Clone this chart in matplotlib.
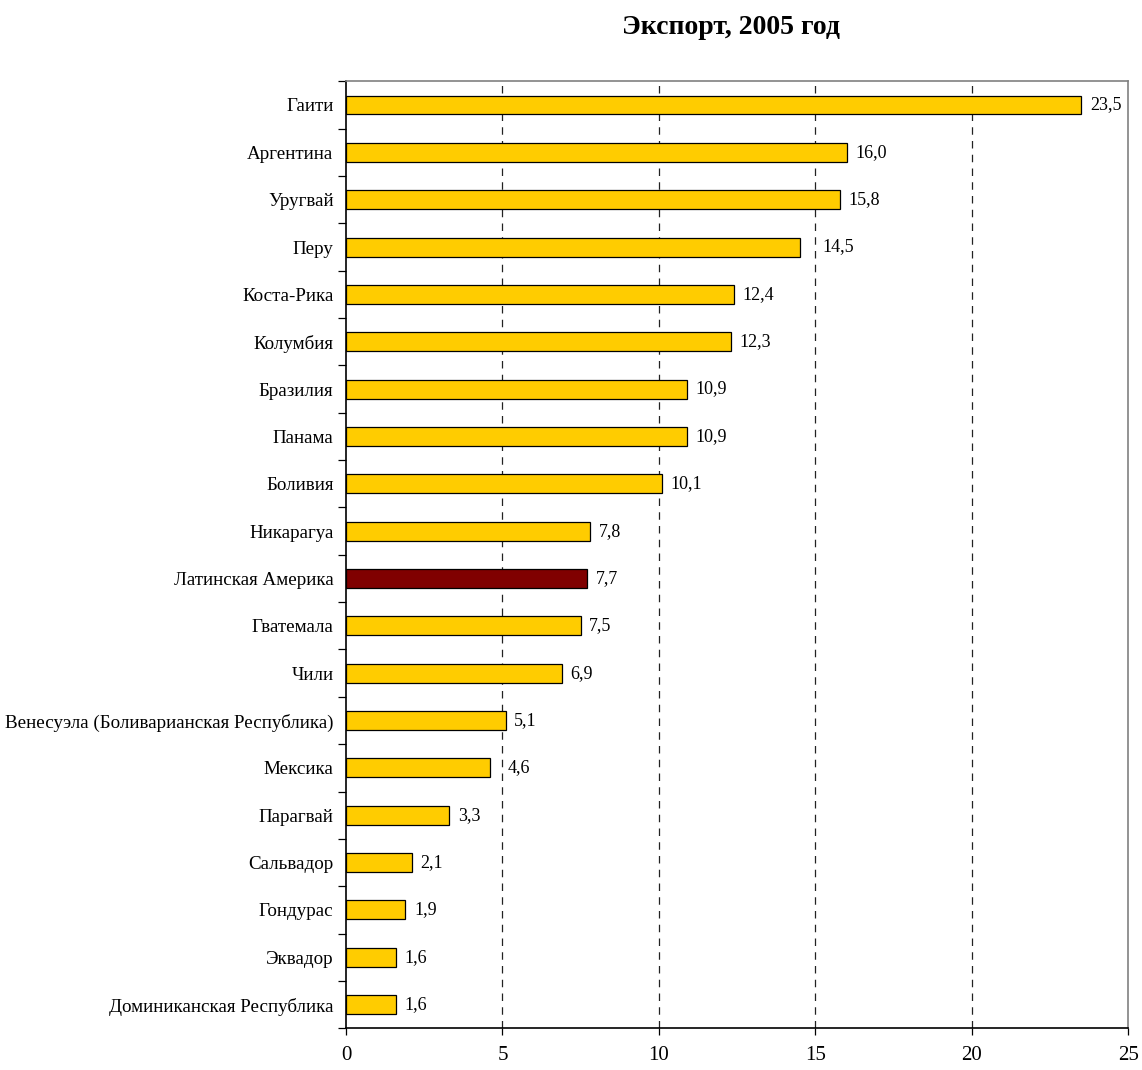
import matplotlib.pyplot as plt
import numpy as np

countries = ['Гаити', 'Аргентина', 'Уругвай', 'Перу', 'Коста-Рика', 'Колумбия',
             'Бразилия', 'Панама', 'Боливия', 'Никарагуа', 'Латинская Америка',
             'Гватемала', 'Чили', 'Венесуэла (Боливарианская Республика)',
             'Мексика', 'Парагвай', 'Сальвадор', 'Гондурас', 'Эквадор',
             'Доминиканская Республика']
values = [23.5, 16.0, 15.8, 14.5, 12.4, 12.3, 10.9, 10.9, 10.1, 7.8, 7.7,
          7.5, 6.9, 5.1, 4.6, 3.3, 2.1, 1.9, 1.6, 1.6]
highlight = 'Латинская Америка'
# labels moved off the gridlines in the original
label_nudge = {'Перу': 0.45, 'Мексика': 0.3}

plt.rcParams['font.family'] = ['Liberation Serif', 'DejaVu Serif']

fig = plt.figure(figsize=(11.42, 10.7), dpi=100)
ax = fig.add_axes([0.303, 0.039, 0.685, 0.885])

y = np.arange(len(countries))
colors = ['#800000' if c == highlight else '#FFCC00' for c in countries]
ax.barh(y, values, height=0.4, color=colors, edgecolor='black', linewidth=0.9, zorder=3)

for yi, c, v in zip(y, countries, values):
    ax.text(v + 0.27 + label_nudge.get(c, 0), yi, f'{v:.1f}'.replace('.', ','),
            va='center', ha='left', fontsize=13, zorder=4)

ax.set_ylim(len(countries) - 0.5, -0.5)
ax.set_xlim(0, 25)
ax.set_yticks(y)
ax.set_yticklabels(countries, fontsize=13.7)
ax.tick_params(axis='y', which='major', length=0, pad=9)
ax.set_yticks(np.arange(-0.5, len(countries), 1), minor=True)
ax.tick_params(axis='y', which='minor', length=6, width=0.9, direction='out')

ax.set_xticks(np.arange(0, 26, 5))
ax.tick_params(axis='x', length=5, width=0.9, direction='out', labelsize=15, pad=8)

for gx in [5, 10, 15, 20]:
    ax.axvline(gx, color='#222222', linestyle=(0, (6, 5)), linewidth=0.9, zorder=1)

ax.spines['top'].set_color('#808080')
ax.spines['right'].set_color('#808080')
for s in ax.spines.values():
    s.set_linewidth(1.2)

fig.text(0.64, 0.974, 'Экспорт, 2005 год', ha='center', va='center',
         fontsize=20, fontweight='bold')

fig.savefig('out.png', dpi=100)
